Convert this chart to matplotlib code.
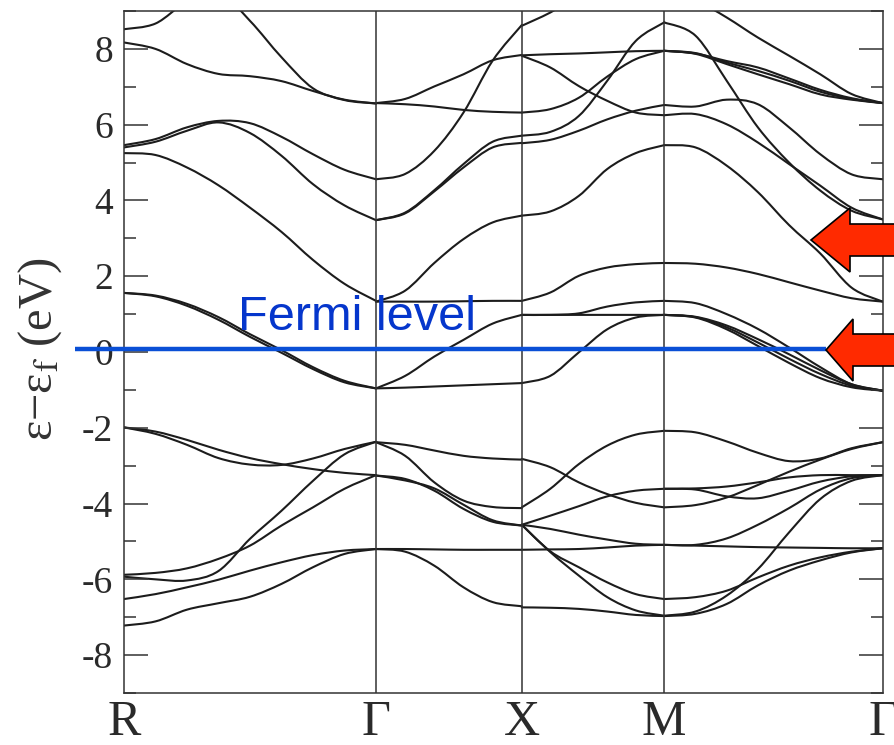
"""Band structure along R-G-X-M-G with the Fermi level marked."""

import matplotlib

matplotlib.use("Agg")
import matplotlib.pyplot as plt
import numpy as np
from matplotlib.patches import PathPatch, Polygon
from matplotlib.path import Path

plt.rcParams["font.family"] = "Liberation Serif"
plt.rcParams["mathtext.fontset"] = "stix"

# high symmetry points along the path
k_labels = ["R", "Γ", "X", "M", "Γ"]
k_nodes = [0.0, 1.730, 2.731, 3.709, 5.209]

E_fermi_line = 0.08  # where the blue line is drawn (eV)

# energies (eV) read at evenly spaced k points of each segment
bands_RG = [
    [8.52, 8.67, 9.25, 9.50, 8.74, 7.78, 6.96, 6.65, 6.56],
    [8.17, 8.00, 7.60, 7.34, 7.28, 7.15, 6.89, 6.66, 6.56],
    [5.46, 5.62, 5.93, 6.10, 6.04, 5.68, 5.22, 4.81, 4.56],
    [5.40, 5.55, 5.84, 6.06, 5.78, 5.18, 4.43, 3.87, 3.48],
    [5.25, 5.20, 4.87, 4.40, 3.81, 3.17, 2.43, 1.80, 1.35],
    [1.56, 1.49, 1.27, 0.92, 0.47, 0.05, -0.40, -0.76, -0.96],
    [1.56, 1.47, 1.22, 0.85, 0.40, -0.02, -0.45, -0.80, -0.96],
    [-1.99, -2.16, -2.45, -2.80, -2.97, -2.98, -2.81, -2.56, -2.37],
    [-1.99, -2.10, -2.32, -2.58, -2.80, -2.96, -3.09, -3.19, -3.25],
    [-5.93, -6.00, -6.03, -5.78, -4.93, -4.19, -3.40, -2.70, -2.37],
    [-5.88, -5.83, -5.71, -5.46, -5.11, -4.58, -4.10, -3.61, -3.25],
    [-6.52, -6.39, -6.21, -6.01, -5.77, -5.55, -5.36, -5.24, -5.20],
    [-7.22, -7.11, -6.80, -6.63, -6.46, -6.12, -5.68, -5.33, -5.20],
]

bands_GX = [
    [6.57, 6.68, 7.01, 7.33, 7.70, 7.84],
    [6.57, 6.54, 6.48, 6.39, 6.34, 6.32],
    [4.56, 4.70, 5.31, 6.32, 7.69, 8.63],
    [3.48, 3.68, 4.27, 4.96, 5.55, 5.71],
    [3.48, 3.66, 4.24, 4.87, 5.40, 5.52],
    [1.33, 1.62, 2.35, 2.98, 3.42, 3.60],
    [1.33, 1.33, 1.33, 1.34, 1.35, 1.35],
    [-0.96, -0.63, -0.12, 0.32, 0.75, 0.98],
    [-0.96, -0.94, -0.91, -0.88, -0.85, -0.82],
    [-2.38, -2.45, -2.60, -2.74, -2.81, -2.84],
    [-2.38, -2.74, -3.44, -3.92, -4.09, -4.12],
    [-3.26, -3.35, -3.66, -4.14, -4.48, -4.58],
    [-3.26, -3.39, -3.60, -4.03, -4.44, -4.58],
    [-5.20, -5.20, -5.21, -5.22, -5.22, -5.22],
    [-5.20, -5.27, -5.64, -6.21, -6.60, -6.71],
]

bands_XM = [
    [8.61, 8.96, 9.40, 9.60, 9.70, 9.70],
    [7.83, 7.86, 7.88, 7.91, 7.94, 7.95],
    [7.82, 7.51, 7.02, 6.63, 6.32, 6.25],
    [6.32, 6.41, 6.71, 7.27, 7.73, 7.95],
    [5.71, 5.81, 6.23, 7.16, 8.21, 8.70],
    [5.51, 5.60, 5.84, 6.14, 6.37, 6.52],
    [3.60, 3.71, 4.12, 4.83, 5.25, 5.46],
    [1.35, 1.57, 2.01, 2.23, 2.32, 2.35],
    [0.98, 0.98, 1.02, 1.20, 1.31, 1.35],
    [0.98, 0.98, 0.98, 0.98, 0.98, 0.98],
    [-0.82, -0.63, -0.01, 0.60, 0.91, 0.98],
    [-4.10, -3.61, -2.96, -2.47, -2.18, -2.08],
    [-2.82, -3.04, -3.44, -3.75, -3.98, -4.10],
    [-4.56, -4.32, -4.07, -3.81, -3.66, -3.61],
    [-4.56, -4.67, -4.82, -4.95, -5.06, -5.09],
    [-5.22, -5.21, -5.20, -5.16, -5.11, -5.09],
    [-4.56, -5.26, -5.68, -6.08, -6.39, -6.52],
    [-4.56, -5.28, -5.90, -6.47, -6.82, -6.96],
    [-6.74, -6.75, -6.78, -6.85, -6.94, -6.97],
]

bands_MG = [
    [9.70, 9.30, 8.83, 8.30, 7.82, 7.33, 6.81, 6.57],
    [8.70, 8.35, 7.16, 5.93, 5.00, 4.26, 3.73, 3.50],
    [6.52, 6.48, 6.66, 6.54, 5.93, 5.22, 4.69, 4.56],
    [6.25, 6.28, 6.01, 5.53, 4.96, 4.39, 3.81, 3.50],
    [5.46, 5.40, 4.92, 4.22, 3.35, 2.60, 1.70, 1.33],
    [7.95, 7.89, 7.64, 7.42, 7.16, 6.87, 6.68, 6.57],
    [7.95, 7.87, 7.60, 7.33, 7.07, 6.80, 6.66, 6.57],
    [7.95, 7.88, 7.68, 7.51, 7.22, 6.92, 6.70, 6.57],
    [2.35, 2.33, 2.23, 2.06, 1.84, 1.62, 1.42, 1.33],
    [1.35, 1.29, 1.00, 0.61, 0.12, -0.40, -0.85, -1.02],
    [0.98, 0.92, 0.65, 0.25, -0.18, -0.58, -0.89, -1.02],
    [0.98, 0.91, 0.60, 0.16, -0.29, -0.69, -0.93, -1.02],
    [0.98, 0.93, 0.70, 0.34, -0.06, -0.48, -0.85, -1.02],
    [-2.08, -2.12, -2.36, -2.66, -2.88, -2.81, -2.54, -2.38],
    [-4.10, -4.04, -3.84, -3.51, -3.16, -2.84, -2.56, -2.38],
    [-3.61, -3.60, -3.55, -3.44, -3.31, -3.25, -3.25, -3.25],
    [-3.61, -3.63, -3.81, -3.86, -3.66, -3.42, -3.28, -3.25],
    [-5.09, -5.09, -4.92, -4.56, -4.12, -3.63, -3.33, -3.25],
    [-5.09, -5.11, -5.13, -5.15, -5.16, -5.17, -5.18, -5.18],
    [-6.52, -6.47, -6.30, -5.95, -5.64, -5.42, -5.27, -5.18],
    [-6.96, -6.85, -6.43, -5.73, -4.76, -3.88, -3.40, -3.25],
    [-6.97, -6.91, -6.65, -6.16, -5.77, -5.50, -5.29, -5.18],
]

segments = [bands_RG, bands_GX, bands_XM, bands_MG]


def smooth_path(x, y):
    # Catmull-Rom through the read points, drawn as cubic Bezier pieces
    p = np.column_stack([x, y])
    pp = np.vstack([p[0], p, p[-1]])
    verts = [p[0]]
    codes = [Path.MOVETO]
    for i in range(len(p) - 1):
        c1 = pp[i + 1] + (pp[i + 2] - pp[i]) / 6.0
        c2 = pp[i + 2] - (pp[i + 3] - pp[i + 1]) / 6.0
        verts += [c1, c2, pp[i + 2]]
        codes += [Path.CURVE4] * 3
    return Path(verts, codes)


fig = plt.figure(figsize=(8.94, 7.45), dpi=100)
ax = fig.add_axes([0.1387, 0.0698, 0.8487, 0.9154])

for i, seg in enumerate(segments):
    k = np.linspace(k_nodes[i], k_nodes[i + 1], len(seg[0]))
    for band in seg:
        ax.add_patch(PathPatch(smooth_path(k, band), fill=False,
                               ec="#1c1c1c", lw=1.5, capstyle="round"))

for kx in k_nodes[1:-1]:
    ax.axvline(kx, color="#333333", lw=1.1, zorder=1)

ax.set_xlim(k_nodes[0], k_nodes[-1])
ax.set_ylim(-9, 9)

ax.set_xticks(k_nodes)
ax.set_xticklabels(k_labels)
ax.tick_params(axis="x", length=0, labelsize=36, pad=4.5, labelcolor="#2a2a2a")

yt = np.arange(-8, 9, 2)
ax.set_yticks(yt)
ax.set_yticklabels([str(v) for v in yt])
ax.set_yticks(np.arange(-9, 10, 2), minor=True)
ax.tick_params(axis="y", which="both", direction="in", left=True, right=True,
               color="#333333", width=1.1, labelsize=27, pad=8,
               labelcolor="#2a2a2a")
ax.tick_params(axis="y", which="major", length=17)
ax.tick_params(axis="y", which="minor", length=8.5)
for sp in ax.spines.values():
    sp.set_color("#333333")
    sp.set_linewidth(1.1)

fig.text(40 / 894, 1 - 349.5 / 745, "ε−ε$_{\\mathrm{f}}$ (eV)", rotation=90,
         ha="center", va="center", fontsize=35, color="#333333")

# Fermi level marker
ax.plot([-0.336, 4.820], [E_fermi_line, E_fermi_line], color="#0a4fd6",
        lw=3.2, clip_on=False, zorder=5, solid_capstyle="butt")
ax.text(0.783, 0.58, "Fermi level", family="Liberation Sans", fontsize=35,
        color="#0536cc", va="baseline", ha="left", zorder=6)


def block_arrow(tip_x, tip_y, head_len, head_half, shaft_half):
    # pixel positions (from top-left) -> figure fraction
    pts = [
        (tip_x, tip_y),
        (tip_x + head_len, tip_y - head_half),
        (tip_x + head_len, tip_y - shaft_half),
        (910, tip_y - shaft_half),
        (910, tip_y + shaft_half),
        (tip_x + head_len, tip_y + shaft_half),
        (tip_x + head_len, tip_y + head_half),
    ]
    pts = [(x / 894, 1 - y / 745) for x, y in pts]
    fig.add_artist(Polygon(pts, closed=True, transform=fig.transFigure,
                           fc="#ff2a00", ec="black", lw=1.2, clip_on=False,
                           zorder=10))


block_arrow(811, 240, 39, 32, 16)
block_arrow(826, 350, 27, 31, 16)

fig.savefig("out.png", dpi=100)
